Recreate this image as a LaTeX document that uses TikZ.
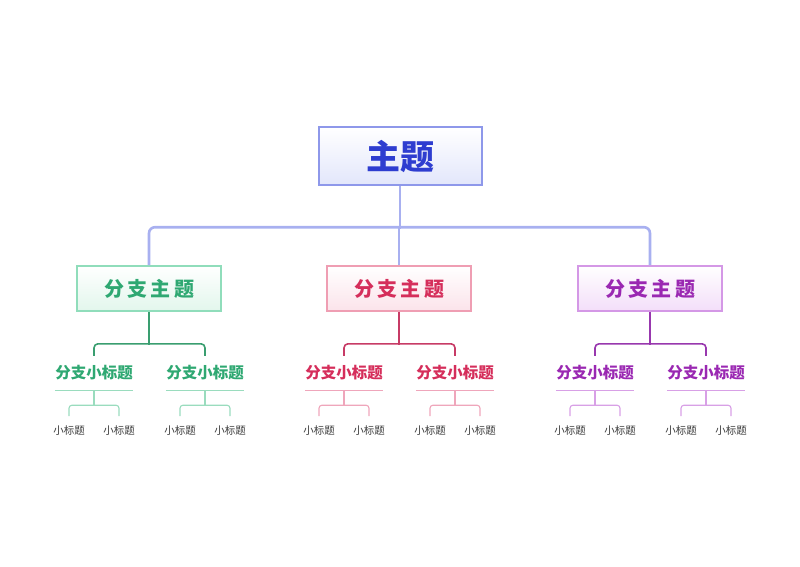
\documentclass[tikz,border=0pt]{standalone}
\usepackage{fontspec}
\setmainfont{Noto Sans CJK SC}
\usetikzlibrary{positioning}
\definecolor{mainText}{HTML}{2E3DD0}
\definecolor{mainEdge}{HTML}{8E98EA}
\definecolor{mainFill}{HTML}{E2E6FB}
\definecolor{mainBus}{HTML}{A8B0F0}
\definecolor{grnText}{HTML}{2FA872}
\definecolor{grnEdge}{HTML}{90DDBB}
\definecolor{grnFill}{HTML}{E2F6EC}
\definecolor{grnLine}{HTML}{3A9E70}
\definecolor{grnSoft}{HTML}{9ADCBE}
\definecolor{pnkText}{HTML}{D52E5B}
\definecolor{pnkEdge}{HTML}{EF9EB3}
\definecolor{pnkFill}{HTML}{FBE3EA}
\definecolor{pnkLine}{HTML}{C73B66}
\definecolor{pnkSoft}{HTML}{EFA6BB}
\definecolor{prpText}{HTML}{9A28B2}
\definecolor{prpEdge}{HTML}{D498E6}
\definecolor{prpFill}{HTML}{F3DEF9}
\definecolor{prpLine}{HTML}{9838AE}
\definecolor{prpSoft}{HTML}{D8A0E6}
\definecolor{leafText}{HTML}{3A3A3A}
\tikzstyle{topic} = [draw=mainEdge, line width=2pt, minimum width=163pt, minimum height=58pt, top color=white, bottom color=mainFill, text=mainText, font=\fontsize{34pt}{40pt}\selectfont\bfseries]
\tikzstyle{branch} = [line width=1.6pt, minimum width=144pt, minimum height=45pt, font=\fontsize{20pt}{24pt}\selectfont\bfseries]
\tikzstyle{sub} = [inner sep=0pt, minimum width=78pt, minimum height=34pt, font=\fontsize{15.5pt}{18pt}\selectfont\bfseries]
\tikzstyle{leaf} = [inner sep=0pt, minimum width=40pt, minimum height=28pt, text=leafText, font=\fontsize{10.5pt}{12pt}\selectfont]
\tikzstyle{bus} = [line width=2.6pt, rounded corners=6pt]

\begin{document}
\begin{tikzpicture}[x=1pt, y=1pt]
    \useasboundingbox (0,0) rectangle (800,566);
    \node[topic] (main) at (400,409.5) {主题};
    \draw[bus, mainBus] (main.south) -- ++(0,-42);
    \foreach \bx/\c in {149/grn, 399/pnk, 650/prp} {
        \node[branch, draw=\c Edge, top color=white, bottom color=\c Fill, text=\c Text] (br-\c) at (\bx,277.5) {分\,支\,主\,题};
        \node[sub, text=\c Text] (sl-\c) at (\bx-55,193) {分支小标题};
        \node[sub, text=\c Text] (sr-\c) at (\bx+56,193) {分支小标题};
        \draw[line width=1.6pt, \c Line] (br-\c.south) -- ++(0,-33);
        \draw[line width=1.6pt, \c Line, rounded corners=4pt] (sl-\c.north) -- ++(0,12) -| (sr-\c.north);
        \foreach \s in {sl, sr} {
            \draw[line width=1.2pt, \c Soft] (\s-\c.south west) -- (\s-\c.south east);
            \node[leaf] (\s-a-\c) [below=26pt of \s-\c.south, xshift=-25pt] {小标题};
            \node[leaf] (\s-b-\c) [below=26pt of \s-\c.south, xshift=25pt] {小标题};
            \draw[line width=1.1pt, \c Soft] (\s-\c.south) -- ++(0,-15);
            \draw[line width=1.1pt, \c Soft, rounded corners=3pt] (\s-a-\c.north) -- ++(0,11) -| (\s-b-\c.north);
        }
    }
    \draw[bus, mainBus] (br-grn.north) -- ++(0,38) -| (br-prp.north);
    \draw[bus, mainBus] (br-pnk.north) -- ++(0,38);
\end{tikzpicture}
\end{document}
